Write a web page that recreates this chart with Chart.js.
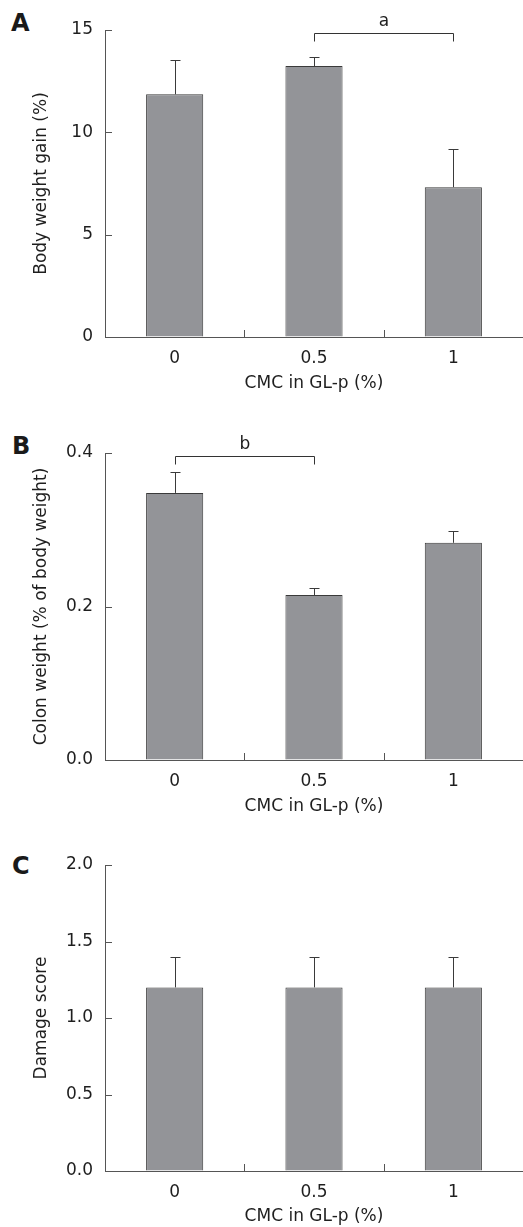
<!DOCTYPE html>
<html>
<head>
<meta charset="utf-8">
<script src="https://cdn.jsdelivr.net/npm/chart.js@4.4.1/dist/chart.umd.min.js"></script>
<style>
  html, body { margin: 0; padding: 0; background: #fff; }
  body { width: 523px; height: 1227px; position: relative; overflow: hidden; }
  canvas { position: absolute; left: 0; }
  .letter { position: absolute; font: bold 24px "DejaVu Sans"; color: #1a1a1a; }
</style>
</head>
<body>
<div class="letter" style="left:11px;top:9px">A</div>
<div class="letter" style="left:12px;top:432px">B</div>
<div class="letter" style="left:12px;top:852px">C</div>
<canvas id="chartA" width="523" height="400" style="top:0"></canvas>
<canvas id="chartB" width="523" height="420" style="top:400px"></canvas>
<canvas id="chartC" width="523" height="407" style="top:820px"></canvas>
<script>
// ================= DATA =================
const categories = ["0", "0.5", "1"];
const xTitle = "CMC in GL-p (%)";

const gainValues = [11.86, 13.24, 7.32];
const gainErrors = [1.67, 0.44, 1.85];
const gainTicks = [0, 5, 10, 15];

const colonValues = [0.348, 0.215, 0.283];
const colonErrors = [0.027, 0.009, 0.016];
const colonTicks = [0, 0.2, 0.4];

const damageValues = [1.2, 1.2, 1.2];
const damageErrors = [0.2, 0.2, 0.2];
const damageTicks = [0, 0.5, 1, 1.5, 2];

// bracket: from category, to category, level (data units), label
const gainBrackets = [{ from: 1, to: 2, level: 14.85, label: "a" }];
const colonBrackets = [{ from: 0, to: 1, level: 0.396, label: "b" }];

// ================= STYLE =================
const FONT = "DejaVu Sans";
const FSIZE = 17;
const TEXT = "#1e1e1e";
const AXIS = "#555";
const BAR_FILL = "#939498";
const BAR_EDGE = "#3a3a3a";

// ================= DECOR PLUGIN =================
const decor = {
  id: "decor",
  afterDatasetsDraw(chart, args, opts) {
    const { ctx, chartArea } = chart;
    const x = chart.scales.x, y = chart.scales.y;
    ctx.save();
    ctx.lineWidth = 1;

    // inward y ticks
    ctx.strokeStyle = AXIS;
    y.ticks.forEach(t => {
      if (t.value === y.min) return;
      const py = Math.round(y.getPixelForValue(t.value)) + 0.5;
      ctx.beginPath();
      ctx.moveTo(chartArea.left, py);
      ctx.lineTo(chartArea.left + 7, py);
      ctx.stroke();
    });

    // inward x ticks between categories
    for (let i = 0; i < categories.length - 1; i++) {
      const px = Math.round((x.getPixelForValue(i) + x.getPixelForValue(i + 1)) / 2) + 0.5;
      ctx.beginPath();
      ctx.moveTo(px, chartArea.bottom);
      ctx.lineTo(px, chartArea.bottom - 7);
      ctx.stroke();
    }

    // error bars (upper only)
    ctx.strokeStyle = BAR_EDGE;
    const meta = chart.getDatasetMeta(0);
    meta.data.forEach((bar, i) => {
      const px = Math.round(bar.x) + 0.5;
      const top = Math.round(y.getPixelForValue(opts.values[i] + opts.errors[i])) + 0.5;
      ctx.beginPath();
      ctx.moveTo(px, bar.y);
      ctx.lineTo(px, top);
      ctx.moveTo(px - 5, top);
      ctx.lineTo(px + 5, top);
      ctx.stroke();
    });

    // significance brackets
    ctx.strokeStyle = "#333";
    ctx.fillStyle = TEXT;
    ctx.font = FSIZE + "px " + FONT;
    ctx.textAlign = "center";
    ctx.textBaseline = "bottom";
    (opts.brackets || []).forEach(b => {
      const x1 = Math.round(x.getPixelForValue(b.from)) + 0.5;
      const x2 = Math.round(x.getPixelForValue(b.to)) + 0.5;
      const py = Math.round(y.getPixelForValue(b.level)) + 0.5;
      ctx.beginPath();
      ctx.moveTo(x1, py + 8);
      ctx.lineTo(x1, py);
      ctx.lineTo(x2, py);
      ctx.lineTo(x2, py + 8);
      ctx.stroke();
      ctx.fillText(b.label, (x1 + x2) / 2, py - 3);
    });

    ctx.restore();
  }
};

// ================= CHART BUILDER =================
function makeChart(id, cfg) {
  return new Chart(document.getElementById(id), {
    type: "bar",
    data: {
      labels: categories,
      datasets: [{
        data: cfg.values,
        backgroundColor: BAR_FILL,
        borderColor: BAR_EDGE,
        borderWidth: 1,
        barPercentage: 0.41,
        categoryPercentage: 1
      }]
    },
    plugins: [decor],
    options: {
      responsive: false,
      animation: false,
      layout: { padding: { top: cfg.padTop, right: 0, bottom: 0, left: 0 } },
      plugins: {
        legend: { display: false },
        tooltip: { enabled: false },
        decor: { values: cfg.values, errors: cfg.errors, brackets: cfg.brackets }
      },
      scales: {
        x: {
          afterFit: s => { s.height = cfg.xHeight; },
          grid: { display: true, drawOnChartArea: false, drawTicks: false },
          border: { display: true, color: AXIS, width: 1 },
          ticks: { color: TEXT, font: { family: FONT, size: FSIZE }, padding: 11 },
          title: {
            display: true, text: xTitle, color: TEXT,
            font: { family: FONT, size: FSIZE },
            padding: { top: 0, bottom: cfg.titlePad }
          }
        },
        y: {
          min: cfg.ticks[0],
          max: cfg.ticks[cfg.ticks.length - 1],
          afterFit: s => { s.width = 105; },
          afterBuildTicks: s => { s.ticks = cfg.ticks.map(v => ({ value: v })); },
          grid: { display: true, drawOnChartArea: false, drawTicks: false },
          border: { display: true, color: AXIS, width: 1 },
          ticks: {
            color: TEXT, font: { family: FONT, size: FSIZE }, padding: 12,
            callback: v => v.toFixed(cfg.decimals)
          },
          title: {
            display: true, text: cfg.yTitle, color: TEXT,
            font: { family: FONT, size: FSIZE },
            padding: { top: 31, bottom: 0 }
          }
        }
      }
    }
  });
}

// ================= PANELS =================
makeChart("chartA", {
  values: gainValues, errors: gainErrors, ticks: gainTicks, decimals: 0,
  brackets: gainBrackets, yTitle: "Body weight gain (%)",
  padTop: 30, xHeight: 63, titlePad: 6
});

makeChart("chartB", {
  values: colonValues, errors: colonErrors, ticks: colonTicks, decimals: 1,
  brackets: colonBrackets, yTitle: "Colon weight (% of body weight)",
  padTop: 53, xHeight: 60, titlePad: 3
});

makeChart("chartC", {
  values: damageValues, errors: damageErrors, ticks: damageTicks, decimals: 1,
  brackets: [], yTitle: "Damage score",
  padTop: 45, xHeight: 56, titlePad: 0
});
</script>
</body>
</html>
